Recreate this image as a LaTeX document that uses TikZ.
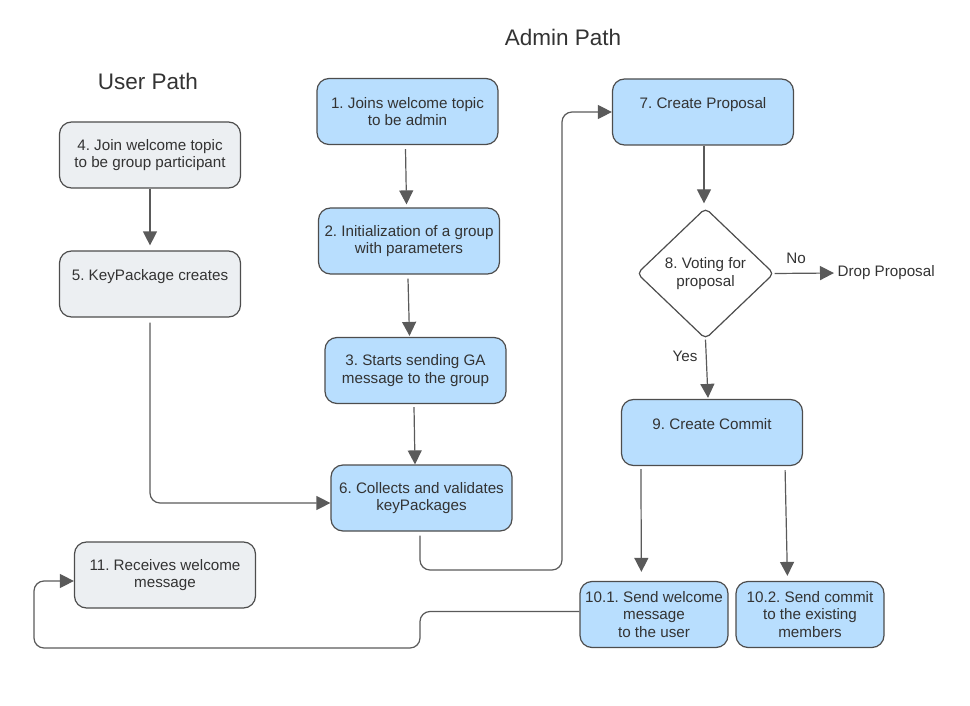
\documentclass[tikz,border=0pt]{standalone}
\usepackage{fontspec}
\setmainfont{Liberation Sans}
\usetikzlibrary{shapes.geometric,arrows.meta,calc}
\definecolor{boxblue}{RGB}{184,222,254}
\definecolor{boxgray}{RGB}{236,239,242}
\definecolor{edgec}{RGB}{77,77,77}
\definecolor{txtc}{RGB}{51,51,51}
\definecolor{wire}{RGB}{90,90,90}
\frenchspacing
\begin{document}
\begin{tikzpicture}[x=1pt,y=-1pt,
 every node/.style={font=\fontsize{15.2}{17.5}\selectfont, text=txtc},
 box/.style={draw=edgec, line width=1.2pt, rounded corners=12pt, align=center, minimum width=181pt, minimum height=66pt, inner sep=0pt},
 bluebox/.style={box, fill=boxblue},
 graybox/.style={box, fill=boxgray},
 smallbox/.style={bluebox, minimum width=148pt},
 decision/.style={diamond, draw=edgec, line width=1.2pt, rounded corners=5pt, minimum width=137pt, minimum height=131pt, inner sep=0pt, align=center, fill=white},
 arr/.style={draw=wire, line width=1.2pt, -{Triangle[length=14pt,width=14pt]}},
 elbow/.style={arr, rounded corners=10pt},
 title/.style={font=\fontsize{22.5}{26}\selectfont}
]
\useasboundingbox (0,0) rectangle (970,706);

% titles
\node[title] (tadmin) at (563,37) {Admin Path};
\node[title] (tuser) at (148,81) {User Path};

% user path
\node[graybox] (b4) at (150,155) {4. Join welcome topic\\to be group participant};
\node[graybox] (b5) at (150,284) {5. KeyPackage creates\\~};
\node[graybox] (b11) at (165,575) {11. Receives welcome\\message};

% admin path
\node[bluebox] (b1) at (407.5,111.5) {1. Joins welcome topic\\to be admin};
\node[bluebox] (b2) at (409,241) {2. Initialization of a group\\with parameters};
\node[bluebox] (b3) at (415.5,370.5) {3. Starts sending GA\\message to the group};
\node[bluebox] (b6) at (421.5,498) {6. Collects and validates\\keyPackages};
\node[bluebox] (b7) at (703,112) {7. Create Proposal\\~};
\node[decision] (d8) at (705.5,273.5) {8. Voting for\\proposal};
\node[anchor=west] (drop) at (834,273) {Drop Proposal};
\node (no) at (796,258) {No};
\node (yes) at (685,356) {Yes};
\node[bluebox] (b9) at (712,432.5) {9. Create Commit\\~};
\node[smallbox] (b101) at (654,614.5) {10.1. Send welcome\\message\\to the user};
\node[smallbox] (b102) at (810,614.5) {10.2. Send commit\\to the existing\\members};

% connectors
\draw[arr] (b4.south) -- ([yshift=5pt]b5.north);
\draw[elbow] ([yshift=-5pt]b5.south) |- ([yshift=-5pt]b6.west);
\draw[arr] ([xshift=-2pt,yshift=-4pt]b1.south) -- ([xshift=-2.5pt,yshift=3pt]b2.north);
\draw[arr] ([xshift=-1pt,yshift=-4pt]b2.south) -- ([xshift=-6pt,yshift=1pt]b3.north);
\draw[arr] ([xshift=-1.5pt,yshift=-3pt]b3.south) -- ([xshift=-6.5pt]b6.north);
\draw[elbow] ([xshift=-1.5pt,yshift=-4pt]b6.south) |- (562,570) |- (b7.west);
\draw[arr] ([xshift=1pt]b7.south) -- ([xshift=-1.5pt,yshift=4pt]d8.north);
\draw[arr] (d8.east) -- (drop.west);
\draw[arr] (d8.south) -- ([xshift=-4pt,yshift=1pt]b9.north);
\draw[arr] ([xshift=20pt,yshift=-3pt]b9.south west) -- ([xshift=62pt,yshift=9pt]b101.north west);
\draw[arr] ([xshift=-18pt,yshift=-4pt]b9.south east) -- ([xshift=52pt,yshift=5pt]b102.north west);
\draw[elbow] ([yshift=3pt]b101.west) -| (420,648) -| (34,581) -- ([yshift=-6pt]b11.west);
\end{tikzpicture}
\end{document}
